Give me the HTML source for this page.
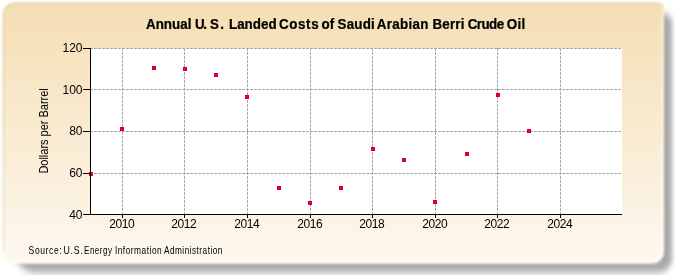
<!DOCTYPE html>
<html><head><meta charset="utf-8"><style>
html,body{margin:0;padding:0;width:675px;height:275px;overflow:hidden;background:#fff;}
svg{position:absolute;left:0;top:0;will-change:transform;}
.gr{stroke:#A8A8A8;stroke-width:1;stroke-dasharray:3 1;shape-rendering:crispEdges;}
.ax{stroke:#000;stroke-width:1;shape-rendering:crispEdges;}
.mk{fill:#D0001E;shape-rendering:crispEdges;}
.mk2{fill:#F4002C;shape-rendering:crispEdges;}
text{font-family:"Liberation Sans",sans-serif;fill:#000;}
.tl{font-size:12px;}
.title{font-size:14px;font-weight:bold;stroke:#000;stroke-width:0.25px;}
.yl{font-size:12px;}
.src{font-size:10.2px;}
</style></head><body>
<svg width="675" height="275" viewBox="0 0 675 275">
<defs>
<linearGradient id="bg" x1="0" y1="0" x2="0" y2="1">
<stop offset="0" stop-color="#F5DEB3"/>
<stop offset="1" stop-color="#FEF8F0"/>
</linearGradient>
<filter id="sh" x="-10%" y="-10%" width="120%" height="130%"><feGaussianBlur stdDeviation="2.8 3.5"/></filter>
<filter id="soft" x="-2%" y="-2%" width="104%" height="104%"><feGaussianBlur stdDeviation="0.8"/></filter>
</defs>
<path d="M 26 14 H 664 A 8 8 0 0 1 672 22 V 258.5 A 14 14 0 0 1 658 272.5 H 36 A 22 22 0 0 1 14 250.5 V 26 A 12 12 0 0 1 26 14 Z" fill="#000" opacity="0.34" filter="url(#sh)"/>
<g filter="url(#soft)"><path d="M 15.0 2.5 H 659 A 5 5 0 0 1 664 7.5 V 251.8 A 12 12 0 0 1 652 263.8 H 12.5 A 10 10 0 0 1 2.5 253.8 V 15.0 A 12.5 12.5 0 0 1 15.0 2.5 Z" fill="url(#bg)"/>
<path d="M 3.5 251 V 15 A 11.5 11.5 0 0 1 15 3.5 H 658" fill="none" stroke="#B8A070" stroke-opacity="0.18" stroke-width="2"/>
<path d="M 13 261 H 652 A 10.5 10.5 0 0 0 662.5 250.5 V 8" fill="none" stroke="#fff" stroke-opacity="0.5" stroke-width="2"/></g>
<rect x="90" y="48" width="532" height="166" fill="#ffffff"/>
<line x1="90" y1="48.5" x2="622" y2="48.5" class="gr"/>
<line x1="90" y1="89.5" x2="622" y2="89.5" class="gr"/>
<line x1="90" y1="131.5" x2="622" y2="131.5" class="gr"/>
<line x1="90" y1="173.5" x2="622" y2="173.5" class="gr"/>
<line x1="122.5" y1="48" x2="122.5" y2="214" class="gr"/>
<line x1="184.5" y1="48" x2="184.5" y2="214" class="gr"/>
<line x1="247.5" y1="48" x2="247.5" y2="214" class="gr"/>
<line x1="310.5" y1="48" x2="310.5" y2="214" class="gr"/>
<line x1="372.5" y1="48" x2="372.5" y2="214" class="gr"/>
<line x1="435.5" y1="48" x2="435.5" y2="214" class="gr"/>
<line x1="497.5" y1="48" x2="497.5" y2="214" class="gr"/>
<line x1="560.5" y1="48" x2="560.5" y2="214" class="gr"/>
<rect x="88.5" y="171.5" width="4" height="4" class="mk"/>
<rect x="89.5" y="172.5" width="2" height="2" class="mk2"/>
<rect x="119.5" y="126.5" width="4" height="4" class="mk"/>
<rect x="120.5" y="127.5" width="2" height="2" class="mk2"/>
<rect x="151.5" y="65.5" width="4" height="4" class="mk"/>
<rect x="152.5" y="66.5" width="2" height="2" class="mk2"/>
<rect x="182.5" y="66.5" width="4" height="4" class="mk"/>
<rect x="183.5" y="67.5" width="2" height="2" class="mk2"/>
<rect x="213.5" y="72.5" width="4" height="4" class="mk"/>
<rect x="214.5" y="73.5" width="2" height="2" class="mk2"/>
<rect x="244.5" y="94.5" width="4" height="4" class="mk"/>
<rect x="245.5" y="95.5" width="2" height="2" class="mk2"/>
<rect x="276.5" y="185.5" width="4" height="4" class="mk"/>
<rect x="277.5" y="186.5" width="2" height="2" class="mk2"/>
<rect x="307.5" y="200.5" width="4" height="4" class="mk"/>
<rect x="308.5" y="201.5" width="2" height="2" class="mk2"/>
<rect x="338.5" y="185.5" width="4" height="4" class="mk"/>
<rect x="339.5" y="186.5" width="2" height="2" class="mk2"/>
<rect x="370.5" y="146.5" width="4" height="4" class="mk"/>
<rect x="371.5" y="147.5" width="2" height="2" class="mk2"/>
<rect x="401.5" y="157.5" width="4" height="4" class="mk"/>
<rect x="402.5" y="158.5" width="2" height="2" class="mk2"/>
<rect x="432.5" y="199.5" width="4" height="4" class="mk"/>
<rect x="433.5" y="200.5" width="2" height="2" class="mk2"/>
<rect x="464.5" y="151.5" width="4" height="4" class="mk"/>
<rect x="465.5" y="152.5" width="2" height="2" class="mk2"/>
<rect x="495.5" y="92.5" width="4" height="4" class="mk"/>
<rect x="496.5" y="93.5" width="2" height="2" class="mk2"/>
<rect x="526.5" y="128.5" width="4" height="4" class="mk"/>
<rect x="527.5" y="129.5" width="2" height="2" class="mk2"/>
<line x1="90.5" y1="48" x2="90.5" y2="215" class="ax"/>
<line x1="83" y1="214.5" x2="622" y2="214.5" class="ax"/>
<line x1="83" y1="48.5" x2="90" y2="48.5" class="ax"/>
<text x="82.5" y="52" text-anchor="end" class="tl">120</text>
<line x1="83" y1="89.5" x2="90" y2="89.5" class="ax"/>
<text x="82.5" y="94" text-anchor="end" class="tl">100</text>
<line x1="83" y1="131.5" x2="90" y2="131.5" class="ax"/>
<text x="82.5" y="135" text-anchor="end" class="tl">80</text>
<line x1="83" y1="173.5" x2="90" y2="173.5" class="ax"/>
<text x="82.5" y="177" text-anchor="end" class="tl">60</text>
<line x1="83" y1="214.5" x2="90" y2="214.5" class="ax"/>
<text x="82.5" y="219" text-anchor="end" class="tl">40</text>
<line x1="122.5" y1="214" x2="122.5" y2="218" class="ax"/>
<text x="121.8" y="228" text-anchor="middle" class="tl" style="letter-spacing:-0.4px">2010</text>
<line x1="184.5" y1="214" x2="184.5" y2="218" class="ax"/>
<text x="183.8" y="228" text-anchor="middle" class="tl" style="letter-spacing:-0.4px">2012</text>
<line x1="247.5" y1="214" x2="247.5" y2="218" class="ax"/>
<text x="246.8" y="228" text-anchor="middle" class="tl" style="letter-spacing:-0.4px">2014</text>
<line x1="310.5" y1="214" x2="310.5" y2="218" class="ax"/>
<text x="309.8" y="228" text-anchor="middle" class="tl" style="letter-spacing:-0.4px">2016</text>
<line x1="372.5" y1="214" x2="372.5" y2="218" class="ax"/>
<text x="371.8" y="228" text-anchor="middle" class="tl" style="letter-spacing:-0.4px">2018</text>
<line x1="435.5" y1="214" x2="435.5" y2="218" class="ax"/>
<text x="434.8" y="228" text-anchor="middle" class="tl" style="letter-spacing:-0.4px">2020</text>
<line x1="497.5" y1="214" x2="497.5" y2="218" class="ax"/>
<text x="496.8" y="228" text-anchor="middle" class="tl" style="letter-spacing:-0.4px">2022</text>
<line x1="560.5" y1="214" x2="560.5" y2="218" class="ax"/>
<text x="559.8" y="228" text-anchor="middle" class="tl" style="letter-spacing:-0.4px">2024</text>
<text transform="translate(146.0,29) scale(0.957,1)" class="title" style="letter-spacing:0px;">Annual</text>
<text transform="translate(194.9,29) scale(0.957,1)" class="title" style="letter-spacing:0px;"><tspan>U</tspan><tspan dx="-1.3">.</tspan><tspan dx="3.0">S</tspan><tspan dx="1.4">.</tspan></text>
<text transform="translate(229.0,29) scale(0.957,1)" class="title" style="letter-spacing:0px;">Landed</text>
<text transform="translate(279.1,29) scale(0.957,1)" class="title" style="letter-spacing:0.6px;">Costs</text>
<text transform="translate(321.5,29) scale(0.957,1)" class="title" style="letter-spacing:0px;">of</text>
<text transform="translate(337.6,29) scale(0.957,1)" class="title" style="letter-spacing:0.2px;">Saudi</text>
<text transform="translate(376.8,29) scale(0.957,1)" class="title" style="letter-spacing:0.3px;">Arabian</text>
<text transform="translate(432.4,29) scale(0.957,1)" class="title" style="letter-spacing:0.2px;">Berri</text>
<text transform="translate(467.7,29) scale(0.957,1)" class="title" style="letter-spacing:-0.6px;">Crude</text>
<text transform="translate(506.8,29) scale(0.957,1)" class="title" style="letter-spacing:0.3px;">Oil</text>
<text transform="translate(48,130.9) rotate(-90) scale(0.915,1)" text-anchor="middle" class="yl">Dollars per Barrel</text>
<text transform="translate(28.6,253.5) scale(0.83424,1)" class="src" style="letter-spacing:0.75px">Source:</text>
<text transform="translate(63.6,253.5) scale(0.8623999999999999,1)" class="src" style="letter-spacing:0.75px">U.S.</text>
<text transform="translate(84.0,253.5) scale(0.8008000000000001,1)" class="src" style="letter-spacing:0.55px">Energy</text>
<text transform="translate(114.9,253.5) scale(0.8228000000000001,1)" class="src" style="letter-spacing:0.5900000000000001px">Information</text>
<text transform="translate(164.0,253.5) scale(0.8096,1)" class="src" style="letter-spacing:0.5800000000000001px">Administration</text>
</svg>
</body></html>
